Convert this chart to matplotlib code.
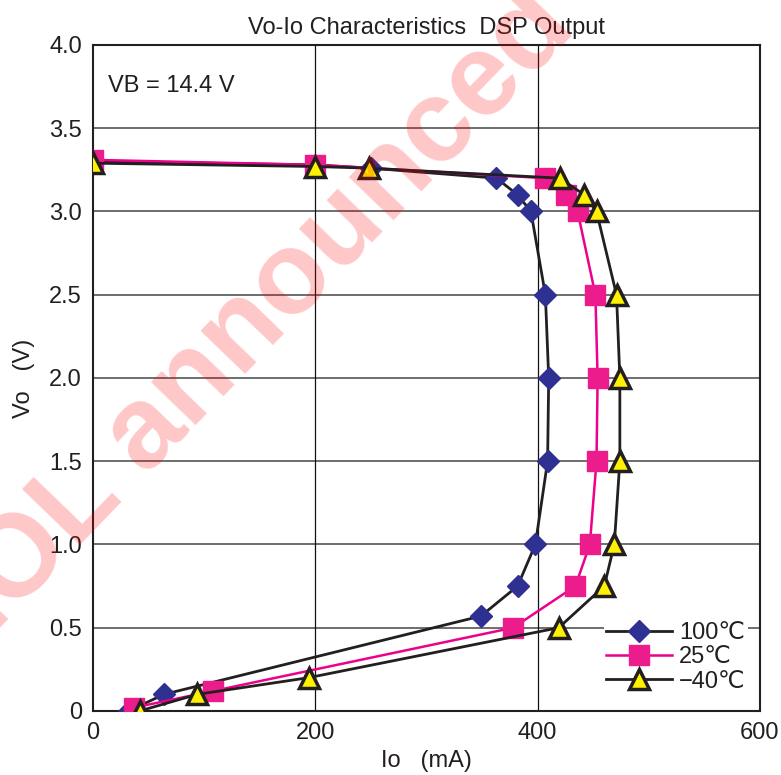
import numpy as np
import matplotlib.pyplot as plt

plt.rcParams['font.family'] = ['Liberation Sans', 'DejaVu Sans']

# data (Io in mA, Vo in V)
io_100 = [0, 200, 250, 363, 382, 394, 407, 410, 409, 398, 382, 349, 64, 32]
vo_100 = [3.30, 3.28, 3.26, 3.20, 3.10, 3.00, 2.50, 2.00, 1.50, 1.00, 0.75, 0.57, 0.10, 0.00]

io_25 = [0, 200, 407, 426, 436, 452, 454, 453, 447, 434, 378, 108, 37]
vo_25 = [3.31, 3.28, 3.20, 3.10, 3.00, 2.50, 2.00, 1.50, 1.00, 0.75, 0.50, 0.12, 0.02]

io_m40 = [0, 200, 248, 420, 442, 453, 471, 474, 474, 469, 460, 419, 194, 94, 42]
vo_m40 = [3.29, 3.27, 3.26, 3.20, 3.10, 3.00, 2.50, 2.00, 1.50, 1.00, 0.75, 0.50, 0.20, 0.10, 0.00]

labels = ['100\u2103', '25\u2103', '\u221240\u2103']

fig = plt.figure(figsize=(7.81, 7.75), dpi=100)
ax = fig.add_axes([0.119, 0.0826, 0.854, 0.8594])

# grid
for yv in np.arange(0.5, 4.0, 0.5):
    ax.axhline(yv, color='#555555', lw=1.2, zorder=1)
for xv in [200, 400]:
    ax.axvline(xv, color='#111111', lw=0.9, zorder=1)

ax.plot(io_100, vo_100, color='#231f20', lw=2.0, marker='D', ms=11,
        mfc='#2e3192', mec='#2e3192', label=labels[0], zorder=3)
ax.plot(io_25, vo_25, color='#ec008c', lw=1.8, marker='s', ms=14,
        mfc='#ec1c8c', mec='#ec1c8c', label=labels[1], zorder=4)
ax.plot(io_m40, vo_m40, color='#231f20', lw=2.0, marker='^', ms=14,
        mfc='#fff200', mec='#231f20', mew=2.5, label=labels[2], zorder=5)

ax.set_xlim(0, 600)
ax.set_ylim(0, 4.0)
ax.set_xticks([0, 200, 400, 600])
ax.set_yticks(np.arange(0, 4.01, 0.5))
ax.set_yticklabels(['0'] + ['%.1f' % v for v in np.arange(0.5, 4.01, 0.5)])
ax.tick_params(length=0, labelsize=17, pad=8, colors='#231f20')
for s in ax.spines.values():
    s.set_linewidth(1.5)
    s.set_color('#231f20')

ax.set_xlabel('Io   (mA)', fontsize=17, labelpad=4, color='#231f20')
ax.set_ylabel('Vo   (V)', fontsize=17, labelpad=10, color='#231f20')
ax.set_title('Vo-Io Characteristics  DSP Output', fontsize=17, pad=8, color='#231f20')
ax.text(0.022, 0.955, 'VB = 14.4 V', transform=ax.transAxes, fontsize=17,
        va='top', ha='left', color='#231f20')

leg = ax.legend(loc='upper left', bbox_to_anchor=(0.748, 0.155), fontsize=17,
                frameon=True, fancybox=False, edgecolor='none', facecolor='white',
                framealpha=1, handlelength=2.8, labelspacing=0.1,
                borderpad=0.1, handletextpad=0.3)
leg.set_zorder(6)
for t in leg.get_texts():
    t.set_color('#231f20')

# watermark
fig.text(0.315, 0.575, 'EOL announced', fontsize=84, fontweight='bold',
         color='red', alpha=0.22, rotation=46, ha='center', va='center',
         rotation_mode='anchor', zorder=10)

fig.savefig('out.png', dpi=100)
